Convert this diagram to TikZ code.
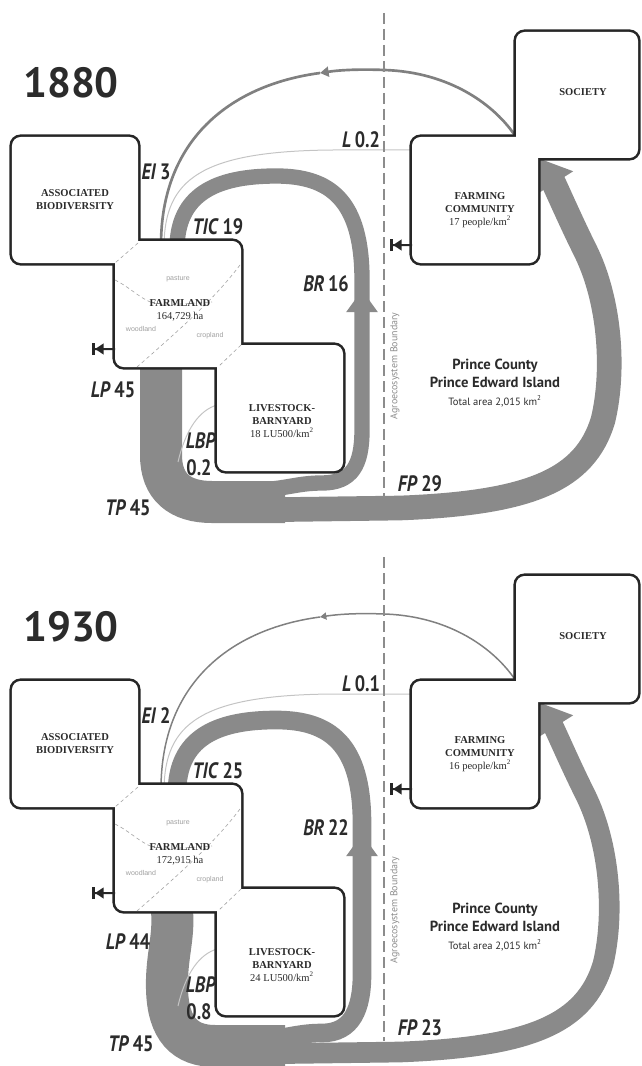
\documentclass[tikz,border=0pt]{standalone}
\usepackage{fontspec}
\setmainfont{Liberation Serif}
\newfontfamily\flowfont[FakeStretch=0.82]{PT Sans}
\newfontfamily\headfont{PT Sans}
\newfontfamily\landfont{Liberation Sans}
\usetikzlibrary{positioning, arrows.meta, backgrounds}
\definecolor{boxc}{HTML}{262626}
\definecolor{txtc}{HTML}{2B2B2B}
\definecolor{flowc}{HTML}{8A8A8A}
\definecolor{eic}{HTML}{808080}
\definecolor{lossc}{HTML}{C4C4C4}
\definecolor{bordc}{HTML}{8C8C8C}
\definecolor{landc}{HTML}{A0A0A0}

\begin{document}
\begin{tikzpicture}[x=0.3mm, y=-0.3mm,
    boxedge/.style={draw=boxc, line width=4.4pt, rounded corners=2.6mm,
      minimum width=37.8mm, minimum height=37.8mm, inner sep=0pt, outer sep=0pt},
    boxface/.style={fill=white, rounded corners=2.6mm,
      minimum width=37.8mm, minimum height=37.8mm, inner sep=0pt, outer sep=0pt},
    boxtext/.style={align=center, text=txtc, inner sep=0pt, font=\fontsize{9}{11}\selectfont},
    landtext/.style={text=landc, inner sep=0pt, font=\landfont\fontsize{6}{7}\selectfont},
    landline/.style={draw=landc, line width=0.5pt, dash pattern=on 3pt off 2.5pt},
    yearlbl/.style={text=txtc, inner sep=0pt, font=\headfont\bfseries\fontsize{36}{36}\selectfont},
    flowlbl/.style={text=txtc, inner sep=0pt, font=\flowfont\bfseries\fontsize{19}{19}\selectfont},
    flow/.style={draw=flowc},
    eiline/.style={draw=eic},
    lossline/.style={draw=lossc, line width=0.3mm},
    outarrow/.style={draw=boxc, line width=0.6mm,
      -{Triangle[width=3.2mm,length=2.6mm]Bar[width=3.6mm,line width=0.9mm]}},
    boundary/.style={draw=bordc, line width=0.35mm, dash pattern=on 3.3mm off 1.5mm},
    bndtext/.style={text=bordc, inner sep=0pt, font=\headfont\fontsize{8.5}{9}\selectfont}]

\useasboundingbox (0,0) rectangle (641,1066);

\foreach \yr/\dy/\ei/\lo/\tic/\br/\lp/\lbp/\tp/\fp/\ha/\ppl/\lu/\wl/\wf/\we/\by in {
    1880/0/3/0.2/19/16/45/0.2/45/29/164{,}729/17/18/4.6mm/7.4mm/0.8mm/483,
    1930/544/2/0.1/25/22/44/0.8/45/23/172{,}915/16/24/5.6mm/6.2mm/0.45mm/489}{
\begin{scope}[shift={(0,\dy)}]
  \node[yearlbl] (year) at (71,83) {\yr};

  % boxes: thick edges first, white faces on top leave the merged outline
  \node[boxedge] (assoc) at (75,200) {};
  \node[boxedge] (farm) at (178,304) {};
  \node[boxedge] (live) at (280,408) {};
  \node[boxedge] (comm) at (475,200) {};
  \node[boxedge, minimum width=36.6mm] (soc) at (577,95) {};
  \node[boxface] (assoc-face) at (assoc) {};
  \node[boxface] (farm-face) at (farm) {};
  \node[boxface] (live-face) at (live) {};
  \node[boxface] (comm-face) at (comm) {};
  \node[boxface, minimum width=36.6mm] (soc-face) at (soc) {};

  % farmland split into land uses
  \draw[landline] (138,243) -- (115,263);
  \draw[landline] (241,345) -- (218,367);
  \draw[landline] (240,265) .. controls (215,298) and (185,325) .. (137,367);
  \draw[landline] (115,280) .. controls (135,290) and (145,305) .. (165,305) -- (212,302);
  \node[landtext] (pasture) at (178,279) {pasture};
  \node[landtext] (woodland) at (141,329) {woodland};
  \node[landtext] (cropland) at (210,336) {cropland};

  \node[boxtext, font=\bfseries\fontsize{9}{11}\selectfont] (assoc-txt) at (75,200) {ASSOCIATED\\BIODIVERSITY};
  \node[boxtext] (farm-txt) at (180,310) {{\bfseries FARMLAND}\\\ha~ha};
  \node[boxtext] (live-txt) at (282,421) {{\bfseries LIVESTOCK-}\\{\bfseries BARNYARD}\\\lu~LU500/km\textsuperscript{2}};
  \node[boxtext] (comm-txt) at (480,210) {{\bfseries FARMING}\\{\bfseries COMMUNITY}\\\ppl~people/km\textsuperscript{2}};
  \node[boxtext, font=\bfseries\fontsize{9}{11}\selectfont] (soc-txt) at (583,92) {SOCIETY};

  % free ends of the flows
  \coordinate (split) at (285,502);
  \coordinate (brstart) at (250,\by+7);
  \coordinate (brhead) at (362,290);
  \coordinate (brbase) at (362,312);
  \coordinate (fpstart) at (250,510);
  \coordinate (eitip) at (320,73);
  \coordinate (lbpend) at (178,462);
  \coordinate (farmout) at (92,349);
  \coordinate (commout) at (390,245);

  \begin{pgfonlayer}{background}
    \ifnum\yr=1880
      \draw[flow, line width=12.6mm] ([xshift=13.8mm,yshift=2.4mm]farm.south west) -- (161,455)
        .. controls (161,487) and (180,502) .. (212,502) -- (split);
    \else
      \draw[flow, line width=12.6mm] ([xshift=16.8mm,yshift=2.4mm]farm.south west)
        .. controls (176,390) and (166,410) .. (167,445)
        .. controls (168,485) and (185,502) .. (215,502) -- (split);
    \fi
    \draw[flow, line width=\wl, -{Triangle[width=9mm,length=6.6mm]}] (brstart)
      .. controls (285,\by+7) and (295,\by) .. (322,\by)
      .. controls (352,\by) and (362,465) .. (362,430) -- (brhead);
    \draw[flow, line width=\wl] (brbase) -- (362,280) .. controls (362,200) and (330,176) .. (276,176)
      .. controls (215,176) and (177,195) .. ([xshift=18.6mm,yshift=-2.4mm]farm.north west);
    \draw[flow, line width=\wf, -{Triangle[width=13mm,length=9mm]}] (fpstart) -- (400,508)
      .. controls (530,503) and (585,480) .. (603,420)
      .. controls (615,370) and (610,300) .. (585,250)
      .. controls (570,220) and (555,185) .. (comm.east |- soc.south);
    \draw[eiline, line width=\we, -{Triangle[length=1mm 2, width=1mm 2.5]}] (soc.west |- comm.north)
      .. controls (495,105) and (450,72) .. (384,70) .. controls (360,69) and (340,70) .. (eitip);
    \draw[eiline, line width=\we] (eitip) .. controls (230,85) and (161,140)
      .. ([xshift=13.8mm,yshift=-1.2mm]farm.north west);
    \draw[lossline] ([yshift=-3.9mm]comm.north west) -- (333,150) .. controls (200,151) and (165,180)
      .. ([xshift=14.7mm,yshift=-1.2mm]farm.north west);
    \draw[lossline] ([yshift=-18mm]live.north west) .. controls (200,410) and (186,428) .. (lbpend);
  \end{pgfonlayer}

  \draw[outarrow] ([yshift=5.4mm]farm.south west) -- (farmout);
  \draw[outarrow] ([yshift=5.4mm]comm.south west) -- (commout);

  % agroecosystem boundary
  \draw[boundary] (384,13) -- (384,497);
  \node[bndtext, rotate=90] (bndlbl) at (395,366) {Agroecosystem Boundary};
  \node[align=center, text=txtc, inner sep=0pt, font=\headfont\bfseries\fontsize{12.5}{15}\selectfont] (region) at (495,383)
    {Prince County\\Prince Edward Island\\{\mdseries\fontsize{9}{10}\selectfont Total area 2,015 km\textsuperscript{2}}};

  % flow labels
  \node[flowlbl] (ei-lbl) at (156,172) {\textit{EI}\,\ei};
  \node[flowlbl] (l-lbl) at (361,140) {\textit{L}\,\lo};
  \node[flowlbl] (tic-lbl) at (218,227) {\textit{TIC}\,\tic};
  \node[flowlbl] (br-lbl) at (326,284) {\textit{BR}\,\br};
  \node[flowlbl] (lbp-lbl) at (201,441) {\textit{LBP}};
  \node[flowlbl] (lbp-val) at (199,468) {\lbp};
  \node[flowlbl] (fp-lbl) at (420,484) {\textit{FP}\,\fp};
  \ifnum\yr=1880
    \node[flowlbl] (lp-lbl) at (113,390) {\textit{LP}\,\lp};
    \node[flowlbl] (tp-lbl) at (128,508) {\textit{TP}\,\tp};
  \else
    \node[flowlbl] (lp-lbl) at (128,398) {\textit{LP}\,\lp};
    \node[flowlbl] (tp-lbl) at (131,500) {\textit{TP}\,\tp};
  \fi
\end{scope}}
\end{tikzpicture}
\end{document}
